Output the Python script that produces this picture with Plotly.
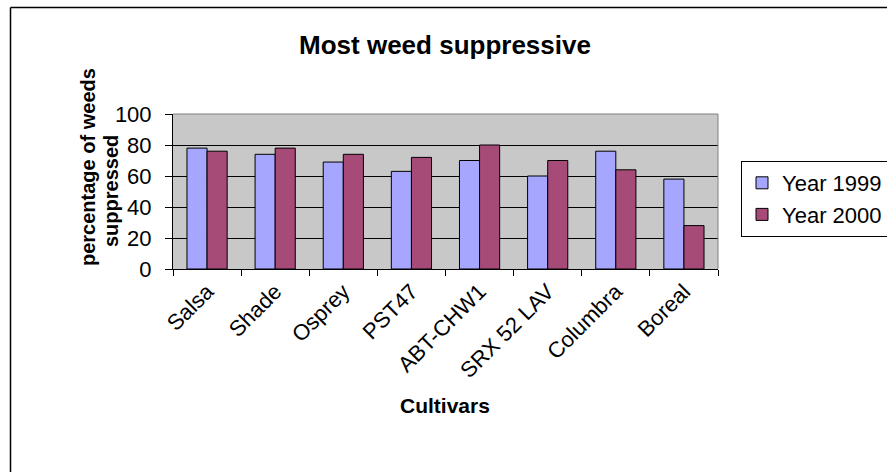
import plotly.graph_objects as go

cultivars = ["Salsa", "Shade", "Osprey", "PST47", "ABT-CHW1", "SRX 52 LAV", "Columbra", "Boreal"]
year_1999 = [78, 74, 69, 63, 70, 60, 76, 58]
year_2000 = [76, 78, 74, 72, 80, 70, 64, 28]
y_ticks = [0, 20, 40, 60, 80, 100]

FONT = "Liberation Sans, Arial, sans-serif"

fig = go.Figure()
fig.add_trace(go.Bar(x=cultivars, y=year_1999, name="Year 1999",
                     marker=dict(color="#A6A6FF", line=dict(color="black", width=1))))
fig.add_trace(go.Bar(x=cultivars, y=year_2000, name="Year 2000",
                     marker=dict(color="#A64A78", line=dict(color="black", width=1))))

L, R, T, B = 173, 169, 114, 203
W, H = 887, 472
pw, ph = W - L - R, H - T - B

def px_x(x):
    return (x - L) / pw

def px_y(y):
    return (H - B - y) / ph

fig.update_layout(
    width=W, height=H,
    margin=dict(l=L, r=R, t=T, b=B, autoexpand=False),
    paper_bgcolor="white",
    plot_bgcolor="#C8C8C8",
    font=dict(family=FONT, color="black", size=21),
    barmode="group",
    bargap=0.41,
    bargroupgap=0,
    title=dict(text="<b>Most weed suppressive</b>", x=px_x(445), xref="paper",
               xanchor="center", y=1 - 45 / H, yanchor="middle",
               font=dict(family=FONT, size=26, color="black")),
    legend=dict(x=px_x(741), y=px_y(161), xanchor="left", yanchor="top",
                bordercolor="black", borderwidth=1, bgcolor="white",
                font=dict(family=FONT, size=22, color="black")),
    showlegend=True,
)

fig.update_xaxes(
    showline=True, linecolor="black", linewidth=1,
    ticks="outside", ticklen=6, tickcolor="black", tickson="boundaries",
    tickangle=-45, tickfont=dict(family=FONT, size=22),
    showgrid=False,
)
fig.update_yaxes(
    range=[0, 100], tickvals=y_ticks,
    showline=True, linecolor="black", linewidth=1,
    ticks="outside", ticklen=7, tickcolor="black",
    showgrid=True, gridcolor="black", gridwidth=1,
    tickfont=dict(family=FONT, size=22),
    ticklabelstandoff=9,
    zeroline=False,
)

annotations = [
    dict(text="<b>percentage of weeds</b>", xref="paper", yref="paper",
         x=px_x(88), y=px_y(167), xanchor="center", yanchor="middle",
         textangle=-90, showarrow=False, font=dict(family=FONT, size=20, color="black")),
    dict(text="<b>suppressed</b>", xref="paper", yref="paper",
         x=px_x(111), y=px_y(191), xanchor="center", yanchor="middle",
         textangle=-90, showarrow=False, font=dict(family=FONT, size=20, color="black")),
    dict(text="<b>Cultivars</b>", xref="paper", yref="paper",
         x=px_x(445), y=px_y(405), xanchor="center", yanchor="middle",
         showarrow=False, font=dict(family=FONT, size=21, color="black")),
]

shapes = [
    # plot area top and right border (gray)
    dict(type="line", xref="paper", yref="paper", x0=0, x1=1, y0=1, y1=1,
         line=dict(color="#808080", width=1)),
    dict(type="line", xref="paper", yref="paper", x0=1, x1=1, y0=0, y1=1,
         line=dict(color="#808080", width=1)),
    # outer chart border (top and left edges visible)
    dict(type="line", xref="paper", yref="paper",
         x0=px_x(10.5), x1=px_x(900), y0=px_y(7.5), y1=px_y(7.5),
         line=dict(color="black", width=1.5)),
    dict(type="line", xref="paper", yref="paper",
         x0=px_x(10.5), x1=px_x(10.5), y0=px_y(7.5), y1=px_y(490),
         line=dict(color="black", width=1.5)),
]
fig.update_layout(shapes=shapes, annotations=annotations)

fig.write_html("out.html")
